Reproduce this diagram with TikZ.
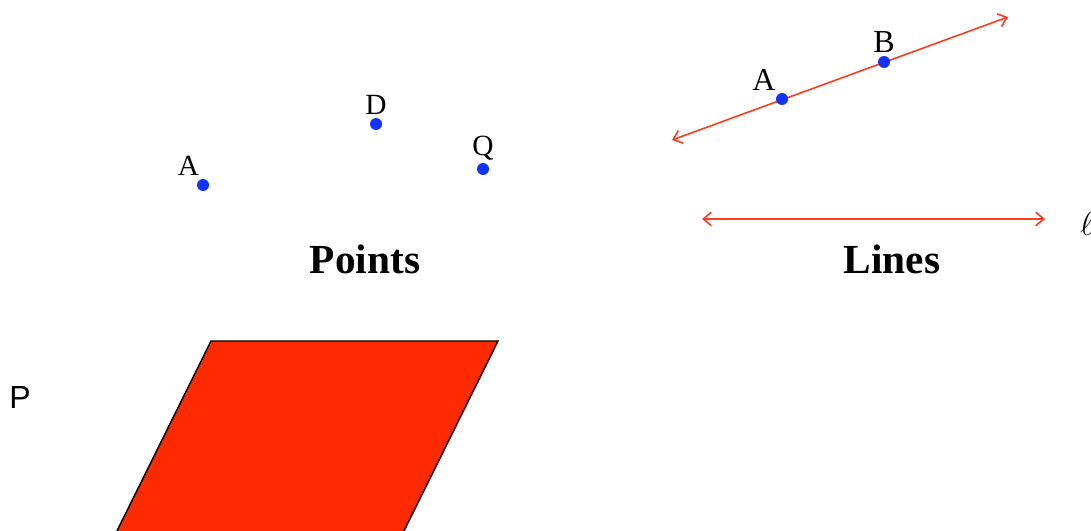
\documentclass[tikz,border=0pt]{standalone}
\usepackage{fontspec}
\setmainfont{Liberation Serif}
\newfontfamily\handfont{Liberation Sans}
\usetikzlibrary{positioning, arrows.meta}
\definecolor{dotblue}{RGB}{20,50,255}
\definecolor{linered}{RGB}{255,60,30}
\definecolor{planered}{RGB}{255,42,0}

\begin{document}
\begin{tikzpicture}[
			x=0.75pt, y=-0.75pt,
			% Styles
			dot/.style={circle, fill=dotblue, minimum size=9pt, inner sep=0pt},
			ptlabel/.style={font=\fontsize{22}{24}\selectfont, inner sep=2pt},
			title/.style={font=\fontsize{31}{34}\selectfont\bfseries, inner sep=0pt, anchor=base},
			ray/.style={{Straight Barb[length=6pt, width=10pt]}-{Straight Barb[length=6pt, width=10pt]}, line width=1.2pt, draw=linered},
			plane/.style={fill=planered, draw=black, line width=1.1pt}
			]
			
			% frame of the page
			\clip (0,0) rectangle (1091,531);
			
			% --- 1. Points ---
			\node[dot, label={[ptlabel]100:A}] (PA) at (203,185) {};
			\node[dot, label={[ptlabel]above:D}] (PD) at (376,124) {};
			\node[dot, label={[ptlabel]above:Q}] (PQ) at (483,169) {};
			\node[title] (PointsT) at (365,273) {Points};
			
			% --- 2. Lines ---
			% Line through A and B
			\coordinate (L1w) at (672,140);
			\coordinate (L1e) at (1008,17);
			\draw[ray] (L1w) -- (L1e);
			\node[dot, label={[ptlabel, font=\fontsize{24}{26}\selectfont]125:A}] (LA) at (782,99) {};
			\node[dot, label={[ptlabel, font=\fontsize{24}{26}\selectfont]above:B}] (LB) at (884,62) {};
			
			% Line l
			\coordinate (L2w) at (702,219);
			\coordinate (L2e) at (1045,219);
			\draw[ray] (L2w) -- (L2e);
			\node[font=\fontsize{26}{28}\selectfont] (Lell) at (1087,224) {$\ell$};
			\node[title] (LinesT) at (892,273) {Lines};
			
			% --- 3. Plane ---
			\node[font=\handfont\fontsize{24}{26}\selectfont, inner sep=0pt, anchor=base west] (PlaneP) at (9,408) {P};
			\draw[plane] (211,341) -- (498,341) -- (399,541) -- (112,541) -- cycle;
			
		\end{tikzpicture}
\end{document}
